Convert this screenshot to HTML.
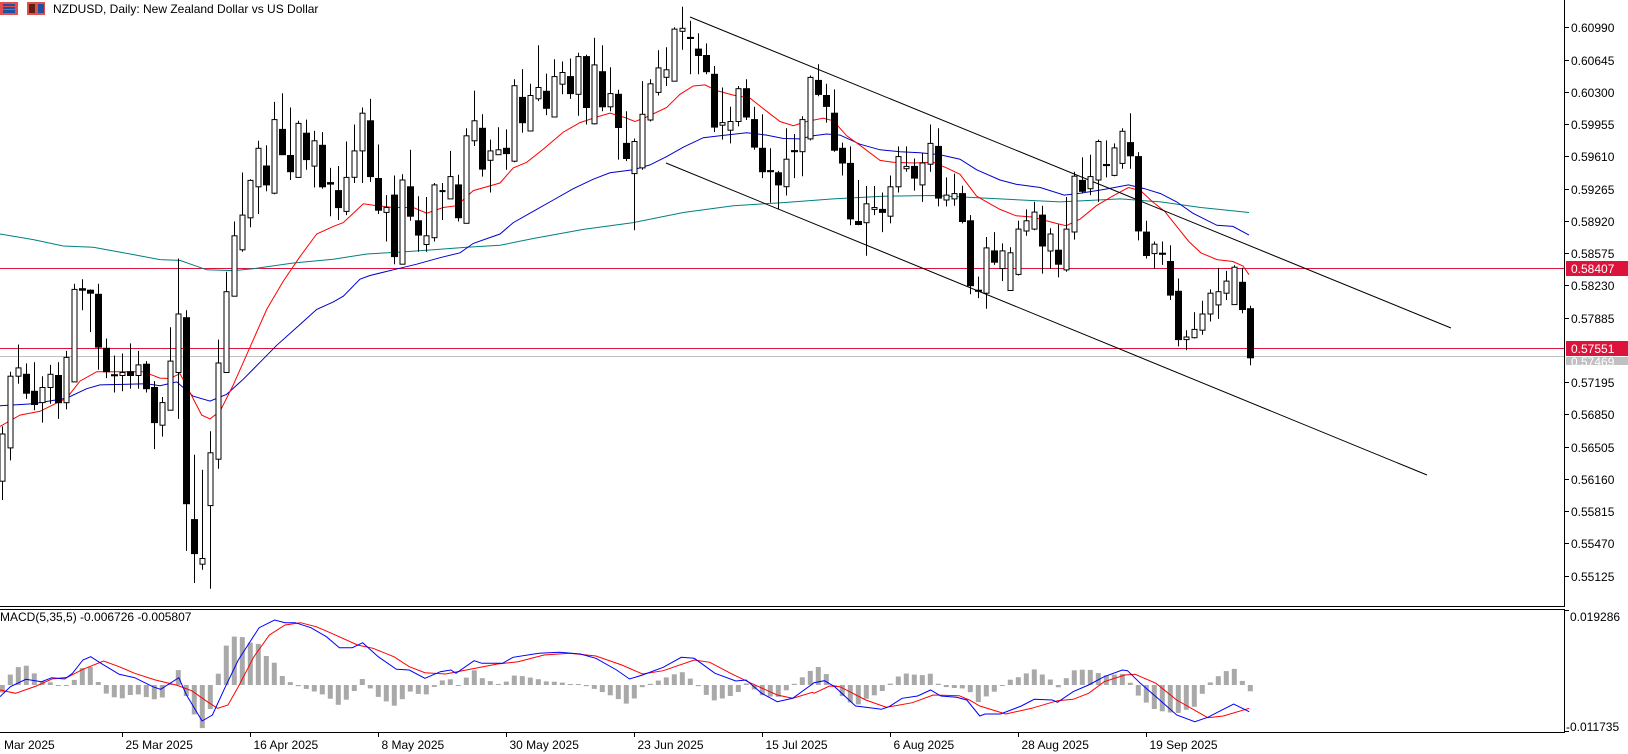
<!DOCTYPE html>
<html><head><meta charset="utf-8"><style>
html,body{margin:0;padding:0;background:#fff;width:1628px;height:754px;overflow:hidden}
svg{display:block}
text{font-family:"Liberation Sans",sans-serif;font-size:12px;fill:#000}
</style></head><body>
<svg id="s" width="1628" height="754" xmlns="http://www.w3.org/2000/svg"></svg>
<script>
var S=document.getElementById('s'),out='';
var C=[
['W',1150,1275,1130,1325],['W',997,1187,985,1220],['W',975,997,913,1017],['B',992,1042,963,1057],['B',1037,1072,960,1087],['W',1027,1067,997,1120],['W',992,1027,967,1070],['B',995,1067,960,1110],['W',947,1067,930,1085],['W',767,1012,752,1012],
['B',765,769,740,822],['B',769,777,767,880],['B',780,920,752,980],['B',923,985,897,1002],['B',993,996,942,1040],['W',987,995,937,1037],['B',985,995,910,1030],['W',967,995,930,1030],['B',965,1030,957,1040],['B',1027,1120,1010,1190],
['W',1067,1127,1052,1157],['W',957,1087,867,1087],['W',832,987,685,1110],['B',842,1335,822,1460],['B',1377,1467,1205,1545],['W',1480,1495,1245,1510],['W',1200,1340,1143,1560],['W',962,1217,900,1242],['W',773,987,720,987],['W',625,785,587,785],
['W',570,662,457,667],['W',478,577,475,602],['W',393,495,373,567],['B',440,490,385,507],['W',317,512,270,515],['B',343,410,247,410],['B',412,455,285,477],['W',327,470,320,470],['B',353,423,317,450],['W',373,440,347,497],
['B',385,495,350,500],['B',484,488,445,573],['B',505,550,440,583],['W',470,560,375,570],['W',400,470,330,485],['W',300,400,285,485],['B',320,468,262,482],['B',473,557,383,567],['W',550,563,517,640],['B',517,680,465,700],
['W',477,700,462,700],['B',495,573,397,585],['B',585,623,520,667],['W',625,648,522,667],['W',490,630,485,640],['W',505,507,485,583],['W',468,527,400,527],['B',490,577,463,587],['W',360,592,340,592],['W',320,373,240,387],
['B',340,448,303,468],['W',400,425,370,510],['W',397,410,337,410],['B',393,407,343,450],['W',227,427,210,430],['B',258,325,183,352],['W',253,347,222,347],['W',232,262,120,268],['B',242,287,195,305],['W',203,310,157,310],
['W',192,223,163,250],['B',203,248,155,262],['W',150,250,140,307],['B',150,285,145,330],['W',172,328,100,330],['B',190,283,120,295],['W',248,283,178,295],['B',250,338,238,423],['B',380,420,295,427],['W',375,460,367,610],
['W',303,445,215,450],['W',222,318,210,322],['W',180,245,133,253],['W',185,205,125,228],['W',77,215,72,215],['W',75,83,18,132],['B',99,102,55,197],['B',130,147,88,197],['B',147,190,115,197],['B',197,337,175,350],
['W',325,332,232,370],['W',322,345,283,380],['W',235,322,228,335],['B',235,310,210,318],['B',317,390,283,397],['B',393,455,303,472],['B',452,455,393,537],['B',458,490,453,555],['W',422,495,340,518],['B',399,402,355,472],
['W',317,402,308,467],['W',205,368,200,372],['B',213,250,170,255],['B',253,282,222,325],['B',300,398,237,402],['B',393,432,378,465],['B',433,580,388,597],['B',587,595,477,597],['W',540,590,493,678],['W',550,555,493,570],
['B',555,563,510,615],['W',495,573,465,592],['W',415,495,388,510],['W',441,447,388,455],['B',441,472,420,505],['W',432,490,405,535],['W',380,435,330,455],['B',388,525,340,547],['W',517,530,470,547],['W',513,527,460,545],
['B',513,587,492,592],['B',585,757,570,780],['B',769,772,733,790],['W',657,777,628,818],['B',665,695,615,702],
['W',665,712,645,745],['W',670,770,655,770],['W',607,727,585,730],['W',585,612,555,625],['W',562,607,535,610],['B',570,652,545,725],['W',620,665,605,712],['B',663,700,595,735],['W',607,715,522,720],['W',467,615,455,635],
['B',478,507,417,512],['W',468,500,410,517],['W',375,477,370,535],['B',436,439,372,470],['W',392,465,380,467],['W',348,433,340,447],['B',378,413,300,447],['B',415,612,403,637],['B',615,677,585,685],['W',647,672,640,712],
['B',671,674,640,702],['B',693,782,650,795],['B',772,900,738,918],['W',893,900,875,928],['W',873,895,827,897],['W',832,875,797,887],['W',777,832,767,852],['W',773,808,710,845],['W',745,777,718,795],['W',708,807,703,807],
['B',748,820,710,830],['B',818,948,810,968]];
var K=2.65;function X(i){return 2.3+8*i}
out+='<line x1="1564.5" y1="0" x2="1564.5" y2="606" stroke="#000"/>';
out+='<line x1="0" y1="606.5" x2="1565" y2="606.5" stroke="#000"/><line x1="0" y1="609.5" x2="1565" y2="609.5" stroke="#000"/>';
out+='<line x1="1564.5" y1="609" x2="1564.5" y2="733" stroke="#000"/><line x1="0" y1="732.5" x2="1565" y2="732.5" stroke="#000"/>';
var labs=['0.60990','0.60645','0.60300','0.59955','0.59610','0.59265','0.58920','0.58575','0.58230','0.57885','0.57540','0.57195','0.56850','0.56505','0.56160','0.55815','0.55470','0.55125'];
for(var k=0;k<18;k++){var y=Math.round(27.3+32.26*k)+.5;if(k==10)continue;out+='<line x1="1564" y1="'+y+'" x2="1569" y2="'+y+'" stroke="#000"/><text x="1571" y="'+(y+4.5)+'">'+labs[k]+'</text>';}
out+='<line x1="1564" y1="610.5" x2="1569" y2="610.5" stroke="#000"/><text x="1570" y="621">0.019286</text>';
out+='<line x1="1564" y1="731.5" x2="1569" y2="731.5" stroke="#000"/><text x="1566" y="731">-0.011735</text>';
var dl=['Mar 2025','25 Mar 2025','16 Apr 2025','8 May 2025','30 May 2025','23 Jun 2025','15 Jul 2025','6 Aug 2025','28 Aug 2025','19 Sep 2025'];
for(var k=0;k<10;k++){var x=Math.round(-6.2+128*k)+.5;out+='<line x1="'+x+'" y1="732" x2="'+x+'" y2="737" stroke="#000"/><text x="'+(k==0?4:x+3)+'" y="749">'+dl[k]+'</text>';}
out+='<line x1="0" y1="356.5" x2="1564" y2="356.5" stroke="#c0c0c0"/>';
out+='<line x1="0" y1="268.5" x2="1564" y2="268.5" stroke="#dc143c"/><line x1="0" y1="348.5" x2="1564" y2="348.5" stroke="#dc143c"/>';
function pl(pts,ox,sx,col){var s='';for(var i=0;i<pts.length;i+=2)s+=(ox+pts[i]/sx).toFixed(1)+','+(pts[i+1]/K).toFixed(1)+' ';return s;}
function ma(a,b,c,col){out+='<polyline fill="none" stroke="'+col+'" stroke-width="1" points="'+pl(a,0,3)+pl(b,500,3)+pl(c,1000,2.49)+'"/>';}
ma([0,620,100,635,190,652,280,655,360,668,480,688,540,690,620,715,700,717,760,712,880,697,1000,687,1100,673,1200,668,1300,662,1400,655,1500,650],
[100,632,250,608,400,590,550,563,700,545,850,537,1000,527,1150,520,1300,518,1500,527],[150,535,300,527,400,535,500,550,620,563],'#008080');
ma([0,1075,100,1070,200,1055,260,1030,300,1020,440,1017,480,1022,530,1012,580,1050,630,1063,680,1045,730,1005,780,960,830,915,900,860,950,820,1000,800,1030,785,1080,740,1110,730,1180,715,1250,700,1320,683,1380,670,1420,645,1500,620],
[40,590,100,560,160,530,220,500,280,475,330,458,400,450,450,437,500,415,550,390,610,365,660,360,740,352,800,358,850,367,900,368,940,360,980,355,1020,358,1080,382,1140,397,1200,402,1260,405,1320,410,1380,422,1430,450,1500,477],
[40,488,100,497,160,517,200,512,260,502,320,490,360,500,400,513,440,535,480,565,540,597,580,600,620,623],'#0000cd');
ma([0,1130,60,1100,120,1090,200,1055,240,1010,290,985,430,985,480,1002,510,1003,540,990,570,1040,605,1100,630,1110,660,1090,700,1020,750,920,800,820,850,745,900,680,950,620,1000,600,1030,590,1060,565,1090,540,1130,545,1180,550,1240,550,1280,565,1330,550,1370,545,1420,505,1500,485],
[40,445,80,430,130,395,190,350,240,325,290,310,330,300,370,310,405,322,440,310,500,285,540,250,580,228,615,225,650,240,700,252,750,260,800,295,840,322,880,333,920,322,970,313,1000,320,1040,360,1080,385,1140,425,1180,430,1240,432,1300,430,1340,445,1380,462,1430,520,1470,540,1500,555],
[40,572,80,575,140,592,165,598,200,580,240,545,280,520,320,497,350,505,380,535,410,560,440,600,470,640,500,670,540,688,580,693,605,705,620,728],'#ff0000');
out+='<line x1="690" y1="17" x2="1451" y2="328" stroke="#000"/><line x1="666" y1="163" x2="1427" y2="475" stroke="#000"/>';
for(var i=0;i<C.length;i++){var c=C[i],x=Math.round(X(i))+.5,t=c[1]/K,b=c[2]/K,wt=c[3]/K,wb=c[4]/K;
 out+='<line x1="'+x+'" y1="'+wt.toFixed(1)+'" x2="'+x+'" y2="'+wb.toFixed(1)+'" stroke="#000"/>';
 var h=Math.max(b-t,1);
 if(c[0]=='B')out+='<rect x="'+(x-3)+'" y="'+t.toFixed(1)+'" width="6" height="'+h.toFixed(1)+'" fill="#000" stroke="#000" stroke-width="1"/>';
 else out+='<rect x="'+(x-2.5)+'" y="'+t.toFixed(1)+'" width="5" height="'+h.toFixed(1)+'" fill="#fff" stroke="#000" stroke-width="1"/>';}
out+='<rect x="1566" y="261" width="62" height="15" fill="#dc143c"/><text x="1571" y="273" style="fill:#fff">0.58407</text>';
out+='<rect x="1566" y="357" width="62" height="8" fill="#c0c0c0"/><text x="1571" y="366" style="fill:#fff">0.57469</text>';
out+='<rect x="1566" y="341" width="62" height="15" fill="#dc143c"/><text x="1571" y="353" style="fill:#fff">0.57551</text>';
var mb=[0,350,20,320,50,298,80,305,100,293,125,297,140,280,160,240,175,230,195,250,230,283,260,293,295,320,310,328,345,293,360,345,390,423,410,405,435,320,460,240,500,143,530,120,550,128,570,128,600,143,630,170,655,203,680,203,700,188,730,230,765,268,790,270,820,295,850,275,870,270,880,280,915,242,930,250,970,250,990,232,1040,220,1080,217,1120,222,1150,235,1190,270,1215,297,1240,285,1280,262,1315,232,1340,235,1380,280,1420,303,1440,300,1470,340,1500,365,1530,355,1568,312];
var mb2=[0,308,20,302,40,320,80,378,100,382,130,388,145,380,170,355,200,348,225,330,245,348,275,352,295,360,320,408,330,402,360,402,400,378,425,358,460,360,470,367,500,335,530,315,560,290,595,270,605,272,630,310,660,350,700,405,735,425,760,412,790,388,810,372,840,395];
var mr=[0,330,30,340,70,318,100,297,130,292,160,268,200,243,230,260,260,280,300,300,340,315,370,332,400,365,420,385,440,375,460,320,490,230,520,165,550,135,580,128,610,140,640,160,690,195,720,205,760,230,790,260,820,278,860,282,900,270,960,252,1000,245,1050,225,1100,220,1150,228,1200,255,1240,282,1280,272,1340,240,1370,247,1410,280,1450,310,1500,345,1530,355,1568,337];
var mr2=[0,340,30,318,50,320,100,360,140,382,190,368,230,345,280,347,300,360,320,378,370,402,420,385,470,362,500,358,530,340,560,305,600,285,620,283,660,310,700,360,760,413,790,408,840,385];
function pts(a,ox){var r=[];for(var i=0;i<a.length;i+=2)r.push([ox+a[i]/1.93,580+a[i+1]/3]);return r;}
var B=pts(mb,0).concat(pts(mb2,814)),R=pts(mr,0).concat(pts(mr2,814));
function at(p,x){for(var i=1;i<p.length;i++)if(p[i][0]>=x){var a=p[i-1],b=p[i],f=(x-a[0])/((b[0]-a[0])||1);return a[1]+f*(b[1]-a[1]);}return p[p.length-1][1];}
for(var i=0;i<C.length;i++){var x=X(i),v=(at(R,x)-at(B,x))*1.9;var hh=Math.abs(v);if(hh<1)hh=1;
 out+='<rect x="'+(x-2.5).toFixed(1)+'" y="'+(v>0?685-hh:685).toFixed(1)+'" width="5" height="'+hh.toFixed(1)+'" fill="#a9a9a9"/>';}
function ps(p){return p.map(function(q){return q[0].toFixed(1)+','+q[1].toFixed(1)}).join(' ')}
out+='<polyline fill="none" stroke="#ff0000" points="'+ps(R)+'"/><polyline fill="none" stroke="#0000ff" points="'+ps(B)+'"/>';
out+='<text x="0" y="621">MACD(5,35,5) -0.006726 -0.005807</text>';
out+='<rect x="0" y="2" width="18" height="13" fill="#e05050"/><rect x="3" y="4" width="12" height="9" fill="#2050a0"/><rect x="3" y="6" width="12" height="1" fill="#e05050"/><rect x="3" y="9" width="12" height="1" fill="#e05050"/>';
out+='<rect x="27" y="2" width="18" height="13" fill="#e05050"/><rect x="29" y="4" width="6" height="9" fill="#602010"/><rect x="38" y="4" width="6" height="9" fill="#2050a0"/>';
out+='<text x="53" y="13">NZDUSD, Daily:  New Zealand Dollar vs US Dollar</text>';
S.innerHTML=out;
</script>
</body></html>
